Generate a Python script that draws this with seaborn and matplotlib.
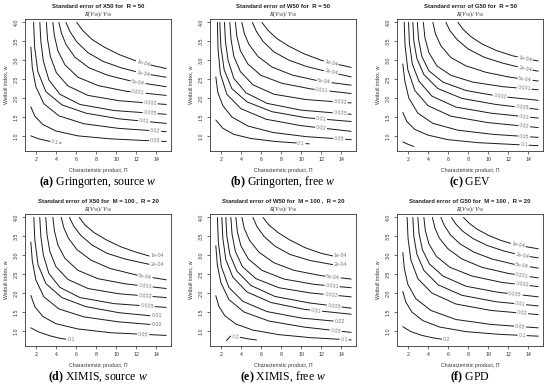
import numpy as np
import pandas as pd
import matplotlib
matplotlib.use("Agg")
import matplotlib.pyplot as plt
import seaborn as sns

# contour levels, outermost (top right) first
levels_top = ["1e-04", "2e-04", "5e-04", "0.001", "0.002", "0.005", "0.01", "0.02", "0.05", "0.1"]
levels_bot = levels_top + ["0.2"]

# (a) Gringorten, source w  -- points as (x, w)
curves_a = [
    [(6.07, 4.0), (6.7, 3.78), (7.6, 3.55), (8.8, 3.35), (10.3, 3.15), (12.0, 2.98), (13.5, 2.87), (15.0, 2.78)],
    [(5.0, 4.0), (5.4, 3.76), (6.1, 3.48), (7.2, 3.2), (8.7, 2.97), (10.5, 2.8), (12.5, 2.66), (15.0, 2.55)],
    [(4.3, 4.0), (4.55, 3.72), (5.0, 3.42), (5.9, 3.08), (7.3, 2.8), (9.2, 2.6), (11.8, 2.43), (15.0, 2.3)],
    [(3.7, 4.0), (3.85, 3.65), (4.2, 3.25), (4.9, 2.88), (6.2, 2.55), (8.2, 2.33), (11.0, 2.18), (15.0, 2.07)],
    [(3.05, 4.0), (3.17, 3.55), (3.45, 3.1), (4.05, 2.67), (5.2, 2.32), (7.2, 2.07), (10.3, 1.93), (15.0, 1.83)],
    [(2.4, 4.0), (2.5, 3.5), (2.75, 2.98), (3.3, 2.48), (4.4, 2.1), (6.4, 1.83), (9.8, 1.67), (15.0, 1.57)],
    [(1.78, 4.0), (1.88, 3.35), (2.2, 2.7), (3.0, 2.17), (4.6, 1.82), (7.0, 1.6), (10.3, 1.45), (15.0, 1.33)],
    [(1.5, 3.35), (1.65, 2.8), (2.0, 2.3), (2.8, 1.85), (4.3, 1.53), (6.8, 1.32), (10.2, 1.2), (15.0, 1.11)],
    [(1.5, 1.77), (1.9, 1.52), (2.7, 1.3), (4.0, 1.13), (6.2, 1.0), (9.5, 0.92), (15.0, 0.85)],
    [(1.5, 1.0), (2.3, 0.92), (3.3, 0.86), (4.5, 0.81)],
]
labx_a = [12.7, 12.7, 12.2, 12.2, 13.4, 13.4, 12.8, 13.9, 13.9, 3.9]

# (b) Gringorten, free w
curves_b = [
    [(6.1, 4.0), (6.7, 3.79), (7.6, 3.57), (8.8, 3.37), (10.3, 3.17), (12.0, 3.0), (13.5, 2.9), (15.0, 2.81)],
    [(5.15, 4.0), (5.55, 3.76), (6.2, 3.5), (7.3, 3.22), (8.8, 3.0), (10.6, 2.83), (12.6, 2.7), (15.0, 2.56)],
    [(4.1, 4.0), (4.35, 3.7), (4.8, 3.42), (5.7, 3.1), (7.1, 2.82), (9.1, 2.61), (11.8, 2.45), (15.0, 2.34)],
    [(3.45, 4.0), (3.6, 3.63), (3.95, 3.25), (4.7, 2.9), (6.0, 2.6), (8.1, 2.39), (11.0, 2.24), (15.0, 2.12)],
    [(2.9, 4.0), (3.02, 3.55), (3.3, 3.1), (3.95, 2.7), (5.2, 2.35), (7.3, 2.1), (10.5, 1.96), (15.0, 1.87)],
    [(2.36, 4.0), (2.46, 3.5), (2.72, 3.0), (3.3, 2.52), (4.5, 2.14), (6.6, 1.86), (10.0, 1.68), (15.0, 1.57)],
    [(1.9, 4.0), (2.0, 3.38), (2.33, 2.75), (3.1, 2.25), (4.6, 1.9), (7.1, 1.64), (10.5, 1.48), (15.0, 1.38)],
    [(1.66, 4.0), (1.72, 3.3), (1.95, 2.65), (2.6, 2.1), (4.0, 1.72), (6.5, 1.44), (10.0, 1.27), (15.0, 1.12)],
    [(1.5, 2.56), (1.7, 2.15), (2.2, 1.8), (3.1, 1.5), (4.7, 1.26), (7.2, 1.09), (10.5, 0.98), (15.0, 0.9)],
    [(1.5, 1.42), (2.2, 1.2), (3.3, 1.04), (5.0, 0.93), (7.5, 0.85), (10.8, 0.79)],
]
labx_b = [13.0, 13.0, 12.3, 12.1, 13.9, 13.9, 12.0, 12.0, 13.8, 10.0]

# (c) GEV
curves_c = [
    [(7.0, 4.0), (7.5, 3.82), (8.3, 3.62), (9.4, 3.43), (10.8, 3.26), (12.4, 3.12), (13.8, 3.04), (15.0, 2.98)],
    [(5.8, 4.0), (6.2, 3.78), (6.9, 3.55), (8.0, 3.3), (9.6, 3.08), (11.5, 2.92), (13.2, 2.81), (15.0, 2.71)],
    [(4.5, 4.0), (4.75, 3.7), (5.3, 3.38), (6.3, 3.07), (7.8, 2.85), (9.8, 2.68), (12.2, 2.55), (15.0, 2.45)],
    [(3.55, 4.0), (3.7, 3.6), (4.1, 3.2), (4.9, 2.85), (6.3, 2.6), (8.5, 2.42), (11.5, 2.3), (15.0, 2.22)],
    [(2.95, 4.0), (3.07, 3.55), (3.4, 3.1), (4.1, 2.72), (5.5, 2.42), (7.8, 2.2), (11.0, 2.05), (15.0, 1.94)],
    [(2.5, 4.0), (2.6, 3.5), (2.9, 3.05), (3.6, 2.62), (5.0, 2.25), (7.4, 1.99), (10.8, 1.83), (15.0, 1.7)],
    [(2.07, 4.0), (2.16, 3.45), (2.45, 2.9), (3.1, 2.45), (4.4, 2.05), (6.8, 1.76), (10.3, 1.6), (15.0, 1.47)],
    [(1.64, 4.0), (1.72, 3.4), (2.0, 2.75), (2.7, 2.2), (4.0, 1.8), (6.3, 1.52), (10.0, 1.35), (15.0, 1.22)],
    [(1.5, 2.9), (1.7, 2.45), (2.1, 2.0), (3.0, 1.6), (4.5, 1.33), (7.0, 1.15), (10.5, 1.04), (15.0, 0.96)],
    [(1.5, 1.62), (1.9, 1.38), (2.7, 1.17), (4.0, 1.02), (6.0, 0.9), (9.0, 0.82), (15.0, 0.74)],
    [(1.5, 0.84), (2.0, 0.78), (2.6, 0.72)],
]
labx_c = [13.7, 13.7, 13.7, 13.6, 11.2, 13.4, 13.6, 13.6, 13.6, 13.6, None]

# (d) XIMIS, source w
curves_d = [
    [(6.33, 4.0), (6.9, 3.8), (7.8, 3.6), (9.0, 3.41), (10.5, 3.22), (12.0, 3.08), (13.3, 2.98)],
    [(5.35, 4.0), (5.8, 3.76), (6.5, 3.52), (7.6, 3.27), (9.1, 3.05), (10.9, 2.9), (13.3, 2.76)],
    [(4.53, 4.0), (4.8, 3.72), (5.25, 3.45), (6.1, 3.15), (7.5, 2.87), (9.4, 2.65), (12.0, 2.48), (15.0, 2.35)],
    [(3.7, 4.0), (3.85, 3.65), (4.2, 3.27), (4.9, 2.92), (6.2, 2.6), (8.2, 2.38), (11.0, 2.24), (15.0, 2.12)],
    [(2.99, 4.0), (3.11, 3.55), (3.4, 3.1), (4.0, 2.7), (5.2, 2.36), (7.2, 2.12), (10.3, 1.98), (15.0, 1.88)],
    [(2.39, 4.0), (2.5, 3.5), (2.75, 3.0), (3.3, 2.52), (4.4, 2.15), (6.4, 1.88), (9.8, 1.72), (15.0, 1.62)],
    [(1.8, 4.0), (1.9, 3.4), (2.22, 2.75), (3.0, 2.25), (4.6, 1.88), (7.0, 1.64), (10.3, 1.48), (13.4, 1.4)],
    [(1.5, 3.35), (1.65, 2.85), (2.0, 2.35), (2.8, 1.9), (4.3, 1.58), (6.8, 1.37), (10.2, 1.24), (13.4, 1.17)],
    [(1.5, 1.94), (1.9, 1.64), (2.7, 1.38), (4.0, 1.19), (6.2, 1.05), (9.5, 0.95), (15.0, 0.88)],
    [(1.5, 1.08), (2.3, 0.97), (3.4, 0.87), (4.3, 0.81), (5.0, 0.78)],
]
labx_d = [14.1, 14.1, 12.9, 12.9, 12.9, 13.1, 14.1, 14.1, 12.7, 5.6]

# (e) XIMIS, free w
curves_e = [
    [(6.2, 4.0), (6.8, 3.8), (7.7, 3.6), (8.9, 3.4), (10.4, 3.2), (12.0, 3.05), (13.2, 2.98)],
    [(5.2, 4.0), (5.6, 3.76), (6.3, 3.5), (7.4, 3.24), (8.9, 3.02), (10.9, 2.86), (13.2, 2.75)],
    [(4.1, 4.0), (4.35, 3.7), (4.85, 3.4), (5.8, 3.08), (7.3, 2.8), (9.3, 2.6), (12.0, 2.46), (15.0, 2.37)],
    [(3.5, 4.0), (3.65, 3.62), (4.0, 3.25), (4.75, 2.9), (6.1, 2.6), (8.3, 2.37), (11.3, 2.23), (15.0, 2.14)],
    [(3.0, 4.0), (3.12, 3.55), (3.45, 3.1), (4.15, 2.7), (5.5, 2.38), (7.8, 2.14), (11.0, 2.0), (15.0, 1.9)],
    [(2.5, 4.0), (2.6, 3.5), (2.9, 3.02), (3.6, 2.58), (5.0, 2.2), (7.4, 1.91), (10.8, 1.74), (15.0, 1.6)],
    [(2.1, 4.0), (2.2, 3.45), (2.5, 2.88), (3.2, 2.42), (4.6, 2.03), (7.0, 1.75), (10.3, 1.57), (15.0, 1.44)],
    [(1.66, 4.0), (1.75, 3.35), (2.05, 2.7), (2.8, 2.15), (4.2, 1.78), (6.6, 1.51), (10.0, 1.34), (13.2, 1.26)],
    [(1.5, 3.25), (1.65, 2.75), (2.0, 2.28), (2.8, 1.83), (4.3, 1.5), (6.8, 1.26), (10.3, 1.1), (15.0, 0.96)],
    [(1.5, 1.93), (1.8, 1.65), (2.4, 1.4), (3.5, 1.18), (5.2, 1.02), (7.8, 0.9), (11.0, 0.82), (15.0, 0.76)],
    [(2.55, 0.74), (2.95, 0.86), (3.9, 0.83), (4.7, 0.79), (5.55, 0.76)],
]
labx_e = [13.9, 13.9, 13.2, 13.1, 13.0, 13.3, 11.5, 13.9, 13.45, 14.3, 3.45]

# (f) GPD
curves_f = [
    [(7.55, 4.0), (8.1, 3.85), (8.9, 3.69), (10.0, 3.53), (11.3, 3.39), (12.8, 3.27), (15.0, 3.17)],
    [(6.35, 4.0), (6.8, 3.82), (7.5, 3.63), (8.5, 3.44), (9.9, 3.26), (11.6, 3.11), (13.3, 3.0), (15.0, 2.93)],
    [(5.3, 4.0), (5.65, 3.78), (6.25, 3.54), (7.2, 3.3), (8.6, 3.08), (10.4, 2.9), (12.6, 2.76), (15.0, 2.66)],
    [(4.45, 4.0), (4.7, 3.72), (5.15, 3.45), (6.0, 3.17), (7.4, 2.9), (9.4, 2.68), (12.0, 2.52), (15.0, 2.4)],
    [(3.6, 4.0), (3.75, 3.64), (4.1, 3.3), (4.85, 2.97), (6.2, 2.68), (8.4, 2.45), (11.4, 2.28), (15.0, 2.17)],
    [(3.0, 4.0), (3.12, 3.57), (3.45, 3.15), (4.15, 2.77), (5.5, 2.45), (7.8, 2.18), (11.0, 2.02), (15.0, 1.9)],
    [(2.5, 4.0), (2.6, 3.5), (2.9, 3.03), (3.6, 2.6), (5.0, 2.22), (7.4, 1.94), (10.8, 1.77), (15.0, 1.66)],
    [(1.93, 4.0), (2.02, 3.45), (2.3, 2.88), (3.0, 2.38), (4.4, 2.0), (6.8, 1.71), (10.3, 1.54), (15.0, 1.43)],
    [(1.5, 3.07), (1.65, 2.65), (2.0, 2.23), (2.8, 1.85), (4.3, 1.54), (6.8, 1.3), (10.3, 1.17), (15.0, 1.08)],
    [(1.5, 2.04), (1.8, 1.76), (2.4, 1.5), (3.5, 1.27), (5.2, 1.1), (7.8, 0.98), (11.0, 0.91), (15.0, 0.86)],
    [(1.5, 1.11), (2.3, 0.98), (3.4, 0.88), (4.6, 0.81), (5.4, 0.78)],
]
labx_f = [13.0, 13.4, 13.4, 13.4, 13.4, 12.7, 13.2, 13.4, 13.2, 13.4, 5.9]

titles = [
    "Standard error of X50 for  R = 50",
    "Standard error of W50 for  R = 50",
    "Standard error of G50 for  R = 50",
    "Standard error of X50 for  M = 100 ,  R = 20",
    "Standard error of W50 for  M = 100 ,  R = 20",
    "Standard error of G50 for  M = 100 ,  R = 20",
]
captions = [
    r"$\mathbf{(a)}$ Gringorten, source $w$",
    r"$\mathbf{(b)}$ Gringorten, free $w$",
    r"$\mathbf{(c)}$ GEV",
    r"$\mathbf{(d)}$ XIMIS, source $w$",
    r"$\mathbf{(e)}$ XIMIS, free $w$",
    r"$\mathbf{(f)}$ GPD",
]
subtitle = r"$R(V_{50})/\ V_{50}$"
x_ticks = [2, 4, 6, 8, 10, 12, 14]
y_ticks = [1.0, 1.5, 2.0, 2.5, 3.0, 3.5, 4.0]

sns.set_theme(style="ticks")
plt.rcParams["font.family"] = ["Liberation Sans", "DejaVu Sans"]
plt.rcParams["mathtext.fontset"] = "custom"
plt.rcParams["mathtext.rm"] = "Liberation Serif"
plt.rcParams["mathtext.it"] = "Liberation Serif:italic"
plt.rcParams["mathtext.bf"] = "Liberation Serif:bold"

W, H = 550, 391
fig = plt.figure(figsize=(W / 100, H / 100), dpi=100)
fig.patch.set_facecolor("white")

lefts = [25, 210, 397]
tops = [19, 214]
box_w, box_h = 146, 132

panels = [
    (levels_top, curves_a, labx_a),
    (levels_top, curves_b, labx_b),
    (levels_bot, curves_c, labx_c),
    (levels_top, curves_d, labx_d),
    (levels_bot, curves_e, labx_e),
    (levels_bot, curves_f, labx_f),
]

for k, (levels, curves, labx) in enumerate(panels):
    row, col = divmod(k, 3)
    l, t = lefts[col], tops[row]
    ax = fig.add_axes([l / W, 1 - (t + box_h) / H, box_w / W, box_h / H])

    rows = []
    for lev, pts in zip(levels, curves):
        for i, (x, w) in enumerate(pts):
            rows.append((lev, i, x, w))
    df = pd.DataFrame(rows, columns=["level", "order", "x", "w"])
    sns.lineplot(data=df, x="x", y="w", units="level", estimator=None, sort=False,
                 color="#1a1a1a", lw=0.7, ax=ax, legend=False)

    ax.set_xlim(0.92, 15.48)
    ax.set_ylim(0.6, 4.09)
    ax.set_xticks(x_ticks)
    ax.set_yticks(y_ticks)
    ax.set_yticklabels([f"{v:.1f}" for v in y_ticks], rotation=90, va="center")
    ax.tick_params(direction="out", length=2.5, width=0.5, labelsize=3.8, pad=2,
                   colors="#333333")
    for s in ax.spines.values():
        s.set_linewidth(0.6)
        s.set_color("#333333")
    ax.set_xlabel("Characteristic product, \u03a0", fontsize=3.8, labelpad=4, color="#333333")
    ax.set_ylabel("Weibull index, w", fontsize=3.8, labelpad=4, color="#333333")

    # inline contour labels
    for lev, pts, lx in zip(levels, curves, labx):
        if lx is None:
            continue
        xs, ws = np.array(pts).T
        ly = np.interp(lx, xs, ws)
        p1 = ax.transData.transform((lx - 0.5, np.interp(lx - 0.5, xs, ws)))
        p2 = ax.transData.transform((lx + 0.5, np.interp(lx + 0.5, xs, ws)))
        ang = np.degrees(np.arctan2(p2[1] - p1[1], p2[0] - p1[0]))
        ax.text(lx, ly, lev, fontsize=3.8, color="#777777", ha="center", va="center",
                rotation=ang, rotation_mode="anchor",
                bbox=dict(boxstyle="square,pad=0.15", fc="white", ec="none"))

    cx = (l + box_w / 2) / W
    fig.text(cx, 1 - (t - 13) / H, titles[k], fontsize=4.3, fontweight="bold",
             ha="center", va="center", color="#222222")
    fig.text(cx, 1 - (t - 5) / H, subtitle, fontsize=4.3, ha="center", va="center",
             color="#222222")
    fig.text(cx, 1 - (t + 163) / H, captions[k], fontsize=8.5, ha="center", va="center",
             family="Liberation Serif", color="black")

fig.savefig("out.png", dpi=100, facecolor="white")
